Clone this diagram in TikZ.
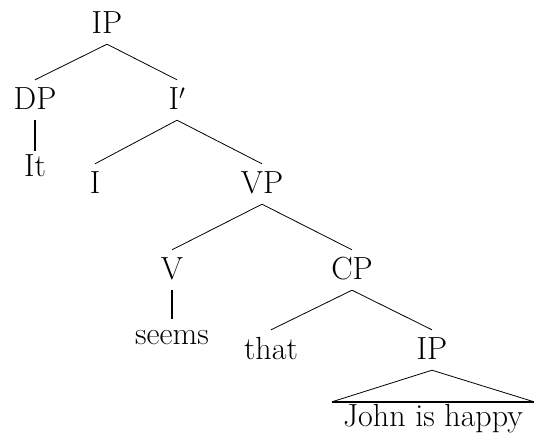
\documentclass[tikz,border=0pt]{standalone}
\usepackage{tikz}
\begin{document}
\begin{tikzpicture}[x=1pt,y=-1pt]
\tikzstyle{tnode}=[anchor=base,inner xsep=0pt,inner ysep=7pt,text height=22pt,text depth=4pt,font=\fontsize{32}{38}\selectfont]
\tikzstyle{tleaf}=[tnode,inner ysep=3pt]
\tikzstyle{tphrase}=[tnode,inner xsep=11pt,inner ysep=2pt]
\tikzstyle{branch}=[line width=0.8pt]
\tikzstyle{unary}=[line width=2.4pt]

\useasboundingbox (0,0) rectangle (534,442);

%% Tree nodes
\node [tnode] (ip) at (107,33) {IP};
\node [tnode] (dp) at (35,109) {DP};
\node [tnode] (ibar) at (177,109) {I$'$};
\node [tleaf] (it) at (35,176) {It};
\node [tnode] (i) at (95,193) {I};
\node [tnode] (vp) at (262,193) {VP};
\node [tnode] (v) at (172,279) {V};
\node [tnode] (cp) at (352,279) {CP};
\node [tleaf] (seems) at (172,344) {seems};
\node [tnode] (that) at (271,359) {that};
\node [tnode] (ipb) at (432,359) {IP};
\node [tphrase] (john) at (433,426) {John is happy};

%% Branches
\draw [branch] (dp.north) -- (ip.south) -- (ibar.north);
\draw [branch] (i.north) -- (ibar.south) -- (vp.north);
\draw [branch] (v.north) -- (vp.south) -- (cp.north);
\draw [branch] (that.north) -- (cp.south) -- (ipb.north);
\draw [unary] (dp.south) -- (it.north);
\draw [unary] (v.south) -- (seems.north);

%% Triangle
\draw [branch] (john.north west) -- (ipb.south) -- (john.north east);
\draw [unary] (john.north west) -- (john.north east);
\end{tikzpicture}
\end{document}
